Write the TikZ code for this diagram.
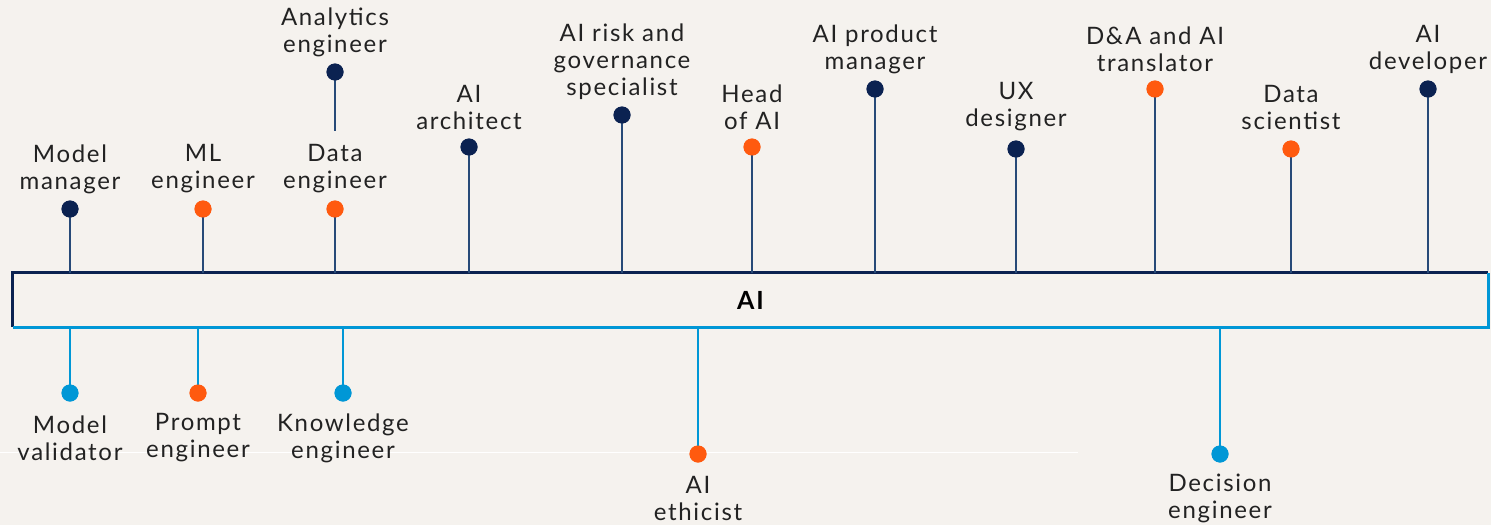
\documentclass[tikz,border=0pt]{standalone}
\usepackage{fontspec}
\setmainfont{Lato}[LetterSpace=7]
\definecolor{bg}{HTML}{F5F2EE}
\definecolor{navy}{HTML}{0B2251}
\definecolor{stem}{HTML}{274A78}
\definecolor{orng}{HTML}{FF5A0F}
\definecolor{lblue}{HTML}{0097D6}
\definecolor{txt}{HTML}{222222}
\begin{document}
\begin{tikzpicture}[x=1pt,y=-1pt,
  dotn/.style={circle,fill=#1,minimum size=17pt,inner sep=0pt},
  lbl/.style={align=center,inner sep=0pt,text=txt,font=\fontsize{24}{27}\selectfont},
  upstem/.style={draw=stem,line width=2pt},
  downstem/.style={draw=lblue,line width=2pt}]
\fill[bg] (0,0) rectangle (1491,525);
\useasboundingbox (0,0) rectangle (1491,525);
\draw[white,line width=0.8pt] (0,452) -- (1078,452);
% bar
\node (bar) [minimum width=1475pt,minimum height=54pt,inner sep=0pt,
  font=\fontsize{25}{27}\selectfont\bfseries,text=black] at (750.5,300) {AI};
\draw[navy,line width=3pt] (bar.south west) -- (bar.north west) -- (bar.north east);
\draw[lblue,line width=3pt] (bar.south west) -- (bar.south east) -- (bar.north east);
% top pins
\node (mm) [dotn=navy] at (70,209) {};
\node (mml) [lbl] at (70,169) {Model\\manager};
\node (ml) [dotn=orng] at (203,209) {};
\node (mll) [lbl] at (203,169) {ML\\engineer};
\node (de) [dotn=orng] at (335,209) {};
\node (del) [lbl] at (335,169) {Data\\engineer};
\node (ae) [dotn=navy] at (335,72) {};
\coordinate (aeend) at (335,131);
\node (ael) [lbl] at (335,32) {Analytics\\engineer};
\node (ar) [dotn=navy] at (469,147) {};
\node (arl) [lbl] at (469,107) {AI\\architect};
\node (rg) [dotn=navy] at (622,115) {};
\node (rgl) [lbl] at (622,62) {AI risk and\\governance\\specialist};
\node (hd) [dotn=orng] at (752,147) {};
\node (hdl) [lbl] at (752,107) {Head\\of AI};
\node (pm) [dotn=navy] at (875,89) {};
\node (pml) [lbl] at (875,49) {AI product\\manager};
\node (ux) [dotn=navy] at (1016,149) {};
\node (uxl) [lbl] at (1016,107) {UX\\designer};
\node (tr) [dotn=orng] at (1155,89) {};
\node (trl) [lbl] at (1155,49) {D\&A and AI\\translator};
\node (ds) [dotn=orng] at (1291,149) {};
\node (dsl) [lbl] at (1291,107) {Data\\scientist};
\node (dv) [dotn=navy] at (1428,89) {};
\node (dvl) [lbl] at (1428,49) {AI\\developer};
% bottom pins
\node (mv) [dotn=lblue] at (70,393) {};
\node (mvl) [lbl] at (70,438) {Model\\validator};
\node (pe) [dotn=orng] at (198,393) {};
\node (pel) [lbl] at (198,438) {Prompt\\engineer};
\node (ke) [dotn=lblue] at (343,393) {};
\node (kel) [lbl] at (343,438) {Knowledge\\engineer};
\node (et) [dotn=orng] at (698,454) {};
\node (etl) [lbl] at (698,498) {AI\\ethicist};
\node (dc) [dotn=lblue] at (1220,454) {};
\node (dcl) [lbl] at (1220,498) {Decision\\engineer};
% stems
\foreach \n in {mm,ml,de,ar,rg,hd,pm,ux,tr,ds,dv}
  \draw[upstem] (\n.center) -- (\n.center |- bar.north);
\draw[upstem] (ae.center) -- (aeend);
\foreach \n in {mv,pe,ke,et,dc}
  \draw[downstem] (\n.center) -- (\n.center |- bar.south);
% redraw dots on top
\foreach \n/\c in {mm/navy,ml/orng,de/orng,ae/navy,ar/navy,rg/navy,hd/orng,pm/navy,ux/navy,tr/orng,ds/orng,dv/navy,mv/lblue,pe/orng,ke/lblue,et/orng,dc/lblue}
  \fill[\c] (\n.center) circle (8.5pt);
\end{tikzpicture}
\end{document}
